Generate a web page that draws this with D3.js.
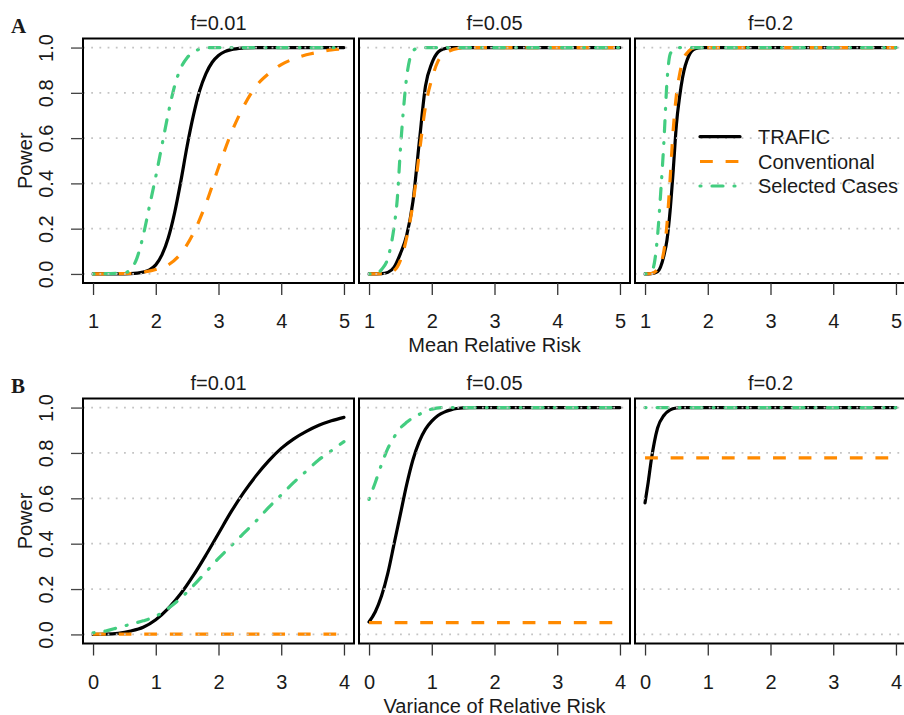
<!DOCTYPE html>
<html>
<head>
<meta charset="utf-8">
<script src="https://cdn.jsdelivr.net/npm/d3@7"></script>
<style>
  body { margin: 0; background: #fff; }
  svg { display: block; }
</style>
</head>
<body>
<script>
// ---- labels and ticks ----
const seriesNames = ["TRAFIC", "Conventional", "Selected Cases"];
const panelTitles = ["f=0.01", "f=0.05", "f=0.2"];
const rowLetters = ["A", "B"];
const xAxisTitles = ["Mean Relative Risk", "Variance of Relative Risk"];
const yAxisTitle = "Power";
const meanTicks = [1, 2, 3, 4, 5];
const varTicks = [0, 1, 2, 3, 4];
const powerTicks = [0, 0.2, 0.4, 0.6, 0.8, 1.0];

// ---- row A: power against mean relative risk, [meanRR, power] ----
const meanTrafic_f01 = [[1,0],[1.4,0],[1.6,0.001],[1.8,0.008],[1.9,0.018],[2.0,0.04],[2.1,0.085],[2.2,0.16],[2.3,0.27],[2.4,0.41],[2.5,0.565],[2.6,0.70],[2.7,0.81],[2.8,0.885],[2.9,0.935],[3.0,0.965],[3.1,0.982],[3.2,0.991],[3.4,0.998],[3.6,1],[5,1]];
const meanConv_f01 = [[1,0],[1.6,0.002],[1.8,0.008],[2.0,0.02],[2.2,0.04],[2.4,0.09],[2.6,0.18],[2.8,0.31],[3.0,0.47],[3.2,0.62],[3.4,0.74],[3.6,0.83],[3.8,0.885],[4.0,0.925],[4.2,0.95],[4.4,0.968],[4.6,0.98],[4.8,0.99],[5.0,0.995]];
const meanSel_f01 = [[1,0],[1.5,0.005],[1.6,0.02],[1.7,0.07],[1.8,0.17],[1.9,0.30],[2.0,0.43],[2.1,0.57],[2.2,0.71],[2.3,0.83],[2.4,0.91],[2.5,0.955],[2.6,0.98],[2.7,0.993],[2.8,1],[5,1]];

const meanTrafic_f05 = [[1,0],[1.2,0.001],[1.3,0.007],[1.4,0.03],[1.5,0.09],[1.6,0.17],[1.7,0.32],[1.8,0.58],[1.9,0.83],[2.0,0.93],[2.1,0.98],[2.2,0.995],[2.3,1],[5,1]];
const meanConv_f05 = [[1,0],[1.2,0.001],[1.3,0.004],[1.4,0.015],[1.5,0.06],[1.6,0.16],[1.7,0.31],[1.8,0.53],[1.9,0.74],[2.0,0.86],[2.1,0.94],[2.2,0.97],[2.3,0.987],[2.4,0.995],[2.6,1],[5,1]];
const meanSel_f05 = [[1,0],[1.1,0.001],[1.2,0.02],[1.3,0.07],[1.4,0.21],[1.45,0.33],[1.5,0.55],[1.55,0.73],[1.6,0.87],[1.65,0.95],[1.7,0.985],[1.8,1],[5,1]];

const meanTrafic_f2 = [[1,0],[1.1,0.001],[1.2,0.01],[1.3,0.08],[1.35,0.15],[1.4,0.28],[1.45,0.46],[1.5,0.66],[1.55,0.78],[1.6,0.87],[1.7,0.965],[1.8,0.995],[1.9,1],[5,1]];
const meanConv_f2 = [[1,0],[1.1,0.002],[1.2,0.02],[1.3,0.1],[1.35,0.22],[1.4,0.42],[1.45,0.64],[1.5,0.79],[1.55,0.88],[1.6,0.94],[1.7,0.985],[1.8,1],[5,1]];
const meanSel_f2 = [[1,0],[1.1,0.01],[1.15,0.05],[1.2,0.17],[1.25,0.36],[1.3,0.58],[1.35,0.85],[1.4,0.97],[1.45,0.99],[1.5,1],[5,1]];

// ---- row B: power against variance of relative risk, [varRR, power] ----
const varTrafic_f01 = [[0,0],[0.2,0.001],[0.4,0.005],[0.6,0.015],[0.8,0.032],[1.0,0.065],[1.2,0.115],[1.4,0.18],[1.6,0.26],[1.8,0.35],[2.0,0.445],[2.2,0.54],[2.4,0.625],[2.6,0.70],[2.8,0.765],[3.0,0.82],[3.2,0.862],[3.4,0.895],[3.6,0.922],[3.8,0.942],[4.0,0.957]];
const varConv_f01 = [[0,0.001],[4,0.001]];
const varSel_f01 = [[0,0.007],[0.2,0.015],[0.4,0.03],[0.6,0.045],[0.8,0.06],[1.0,0.08],[1.2,0.115],[1.4,0.16],[1.6,0.215],[1.8,0.275],[2.0,0.335],[2.2,0.39],[2.4,0.445],[2.6,0.50],[2.8,0.56],[3.0,0.615],[3.2,0.67],[3.4,0.72],[3.6,0.77],[3.8,0.81],[4.0,0.85]];

const varTrafic_f05 = [[0,0.055],[0.1,0.10],[0.2,0.17],[0.3,0.27],[0.4,0.40],[0.5,0.53],[0.6,0.66],[0.7,0.77],[0.8,0.85],[0.9,0.905],[1.0,0.94],[1.1,0.965],[1.2,0.98],[1.3,0.99],[1.4,0.996],[1.6,1],[4,1]];
const varConv_f05 = [[0,0.052],[4,0.052]];
const varSel_f05 = [[0,0.595],[0.1,0.67],[0.2,0.75],[0.3,0.82],[0.4,0.87],[0.5,0.91],[0.6,0.935],[0.7,0.955],[0.8,0.97],[0.9,0.985],[1.0,0.993],[1.2,1],[4,1]];

const varTrafic_f2 = [[0,0.58],[0.05,0.67],[0.1,0.77],[0.15,0.85],[0.2,0.91],[0.3,0.965],[0.4,0.99],[0.5,0.998],[0.6,1],[4,1]];
const varConv_f2 = [[0,0.778],[4,0.778]];
const varSel_f2 = [[0,1],[4,1]];

// ---- styling ----
const W = 904, H = 715;
const FONT = "'Liberation Sans', Arial, Helvetica, sans-serif";
const TEXT = "#1a1a1a";
const seriesStyle = {
  "TRAFIC":         { color: "#000000", dash: null,          cap: "round" },
  "Conventional":   { color: "#FF8A00", dash: "12.8,12.8",   cap: "butt" },
  "Selected Cases": { color: "#43CD80", dash: "1,11,11,11",  cap: "round" }
};
const lineWidth = 3.2;

const panelX = [[83, 354], [359, 630], [635, 906]];
const rows = [
  { top: 38.5, bottom: 283, domain: [0.84, 5.16], ticks: meanTicks,
    series: [
      [meanTrafic_f01, meanConv_f01, meanSel_f01],
      [meanTrafic_f05, meanConv_f05, meanSel_f05],
      [meanTrafic_f2,  meanConv_f2,  meanSel_f2]
    ] },
  { top: 398.5, bottom: 643.5, domain: [-0.16, 4.16], ticks: varTicks,
    series: [
      [varTrafic_f01, varConv_f01, varSel_f01],
      [varTrafic_f05, varConv_f05, varSel_f05],
      [varTrafic_f2,  varConv_f2,  varSel_f2]
    ] }
];

const svg = d3.select("body").append("svg")
  .attr("width", W).attr("height", H)
  .style("font-family", FONT);

const defs = svg.append("defs");

rows.forEach((row, ri) => {
  const y = d3.scaleLinear().domain([-0.04, 1.04]).range([row.bottom, row.top]);

  // row letter
  svg.append("text")
    .attr("x", 11).attr("y", row.top - 5.5)
    .attr("font-family", "'Liberation Serif', 'Times New Roman', serif")
    .attr("font-weight", "bold").attr("font-size", 21)
    .attr("fill", TEXT)
    .text(rowLetters[ri]);

  // y-axis title
  svg.append("text")
    .attr("transform", `translate(32,${(row.top + row.bottom) / 2}) rotate(-90)`)
    .attr("text-anchor", "middle").attr("font-size", 20).attr("fill", TEXT)
    .text(yAxisTitle);

  panelX.forEach((px, pi) => {
    const x = d3.scaleLinear().domain(row.domain).range(px);
    const g = svg.append("g");
    const clipId = `clip-${ri}-${pi}`;
    defs.append("clipPath").attr("id", clipId)
      .append("rect")
      .attr("x", px[0]).attr("y", row.top)
      .attr("width", px[1] - px[0]).attr("height", row.bottom - row.top);

    // panel title
    g.append("text")
      .attr("x", (px[0] + px[1]) / 2).attr("y", row.top - 8.5)
      .attr("text-anchor", "middle").attr("font-size", 20).attr("fill", TEXT)
      .text(panelTitles[pi]);

    // curves
    const line = d3.line()
      .x(d => x(d[0])).y(d => y(d[1]))
      .curve(d3.curveMonotoneX);
    const curves = g.append("g").attr("clip-path", `url(#${clipId})`);
    row.series[pi].forEach((data, si) => {
      const st = seriesStyle[seriesNames[si]];
      curves.append("path")
        .datum(data)
        .attr("d", line)
        .attr("fill", "none")
        .attr("stroke", st.color)
        .attr("stroke-width", lineWidth)
        .attr("stroke-linecap", st.cap)
        .attr("stroke-linejoin", "round")
        .attr("stroke-dasharray", st.dash);
    });

    // dotted horizontal grid, laid over the curves
    g.append("g").selectAll("line").data(powerTicks).join("line")
      .attr("x1", px[0]).attr("x2", px[1])
      .attr("y1", d => y(d)).attr("y2", d => y(d))
      .attr("stroke", "#c4c4c4").attr("stroke-width", 1.8)
      .attr("stroke-dasharray", "1.8,6.4");

    // frame
    g.append("rect")
      .attr("x", px[0]).attr("y", row.top)
      .attr("width", px[1] - px[0]).attr("height", row.bottom - row.top)
      .attr("fill", "none").attr("stroke", "#000").attr("stroke-width", 2);

    // x axis (ticks and labels, no axis line)
    const xa = g.append("g")
      .attr("transform", `translate(0,${row.bottom})`)
      .call(d3.axisBottom(x).tickValues(row.ticks).tickFormat(d3.format("d"))
        .tickSizeInner(12).tickSizeOuter(0).tickPadding(19));
    xa.select(".domain").remove();
    xa.selectAll(".tick line").attr("stroke", "#333").attr("stroke-width", 1.3);
    xa.selectAll(".tick text").attr("font-size", 20).attr("fill", TEXT)
      .attr("font-family", FONT);

    // y axis on the first panel of each row
    if (pi === 0) {
      const ya = g.append("g")
        .attr("transform", `translate(${px[0]},0)`)
        .call(d3.axisLeft(y).tickValues(powerTicks).tickFormat(d3.format(".1f"))
          .tickSizeInner(12).tickSizeOuter(0));
      ya.select(".domain").remove();
      ya.selectAll(".tick line").attr("stroke", "#444").attr("stroke-width", 1.3);
      ya.selectAll(".tick text")
        .attr("x", null).attr("dy", null)
        .attr("text-anchor", "middle")
        .attr("transform", "translate(-30,0) rotate(-90)")
        .attr("font-size", 20).attr("fill", TEXT).attr("font-family", FONT);
    }

    // x-axis title under the middle panel
    if (pi === 1) {
      g.append("text")
        .attr("x", (px[0] + px[1]) / 2).attr("y", row.bottom + 69)
        .attr("text-anchor", "middle").attr("font-size", 20).attr("fill", TEXT)
        .text(xAxisTitles[ri]);
    }

    // legend inside the top-right panel
    if (ri === 0 && pi === 2) {
      const lg = g.append("g");
      const rowsY = [136.7, 161.5, 186];
      seriesNames.forEach((name, si) => {
        const st = seriesStyle[name];
        lg.append("line")
          .attr("x1", 700).attr("x2", 740)
          .attr("y1", rowsY[si]).attr("y2", rowsY[si])
          .attr("stroke", st.color).attr("stroke-width", lineWidth)
          .attr("stroke-linecap", st.cap)
          .attr("stroke-dasharray", st.dash);
        lg.append("text")
          .attr("x", 758).attr("y", rowsY[si] + 7)
          .attr("font-size", 20).attr("fill", TEXT)
          .text(name);
      });
    }
  });
});
</script>
</body>
</html>
